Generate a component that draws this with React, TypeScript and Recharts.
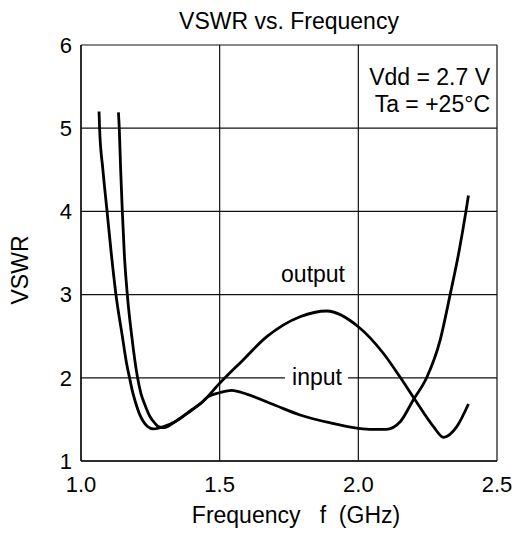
import React from 'react';
import { LineChart, Line, XAxis, YAxis, CartesianGrid } from 'recharts';

// frequency (GHz) / VSWR
const inputFreq = [1.065, 1.067, 1.079, 1.094, 1.109, 1.126, 1.149, 1.163, 1.175, 1.186, 1.197, 1.209, 1.222, 1.24, 1.261, 1.303, 1.339, 1.399, 1.43, 1.459, 1.5, 1.543, 1.6, 1.7, 1.79, 1.9, 2.0, 2.05, 2.1, 2.151, 2.198, 2.247, 2.295, 2.331, 2.362, 2.388, 2.397];
const inputVswr = [5.2, 5.0, 4.5, 4.0, 3.5, 3.0, 2.5, 2.2, 2.0, 1.83, 1.7, 1.58, 1.49, 1.415, 1.385, 1.42, 1.472, 1.613, 1.69, 1.773, 1.82, 1.85, 1.8, 1.67, 1.553, 1.457, 1.393, 1.38, 1.38, 1.472, 1.733, 2.006, 2.454, 3.0, 3.5, 4.0, 4.19];

const outputFreq = [1.135, 1.138, 1.143, 1.149, 1.156, 1.167, 1.183, 1.204, 1.216, 1.231, 1.249, 1.267, 1.279, 1.3, 1.339, 1.399, 1.435, 1.5, 1.58, 1.67, 1.79, 1.886, 2.0, 2.09, 2.151, 2.205, 2.271, 2.307, 2.355, 2.397];
const outputVswr = [5.19, 5.0, 4.5, 4.0, 3.5, 3.0, 2.5, 2.0, 1.814, 1.67, 1.532, 1.453, 1.413, 1.4, 1.472, 1.613, 1.7, 1.934, 2.2, 2.494, 2.734, 2.803, 2.614, 2.295, 2.006, 1.733, 1.413, 1.285, 1.413, 1.685];

const xTicks = [1.0, 1.5, 2.0, 2.5];
const yTicks = [1, 2, 3, 4, 5, 6];

const inputData = inputFreq.map((f, i) => ({ f, v: inputVswr[i] }));
const outputData = outputFreq.map((f, i) => ({ f, v: outputVswr[i] }));

const font = 'Liberation Sans, Arial, sans-serif';
const fs = 23;
const tickFs = 22;

export default function App() {
  return (
    <div style={{ position: 'absolute', left: 0, top: 0, width: 517, height: 535, background: '#fff', fontFamily: font }}>
      <LineChart width={517} height={535} margin={{ top: 45, right: 20, left: 0, bottom: 0 }}>
        <CartesianGrid stroke="#111" strokeWidth={1.2} />
        <XAxis
          type="number"
          dataKey="f"
          domain={[1, 2.5]}
          ticks={xTicks}
          tickFormatter={(v: number) => v.toFixed(1)}
          allowDuplicatedCategory={false}
          height={74}
          tickLine={false}
          tickMargin={9}
          axisLine={{ stroke: '#111', strokeWidth: 1.4 }}
          tick={{ fill: '#000', fontSize: tickFs, fontFamily: font }}
        />
        <YAxis
          type="number"
          domain={[1, 6]}
          ticks={yTicks}
          width={81}
          tickLine={false}
          tickMargin={3}
          axisLine={{ stroke: '#111', strokeWidth: 1.4 }}
          tick={{ fill: '#000', fontSize: tickFs, fontFamily: font }}
        />
        <Line data={inputData} dataKey="v" type="monotone" stroke="#000" strokeWidth={2.8} dot={false} isAnimationActive={false} />
        <Line data={outputData} dataKey="v" type="monotone" stroke="#000" strokeWidth={2.8} dot={false} isAnimationActive={false} />
      </LineChart>
      <svg width={517} height={535} style={{ position: 'absolute', left: 0, top: 0, pointerEvents: 'none' }}>
        <g fontFamily={font} fontSize={fs} fill="#000">
          <text x={289} y={29} textAnchor="middle">VSWR vs. Frequency</text>
          <text x={490} y={85} textAnchor="end">Vdd = 2.7 V</text>
          <text x={490} y={112} textAnchor="end">Ta = +25°C</text>
          <text x={345} y={282} textAnchor="end">output</text>
          <rect x={285} y={366} width={63} height={24} fill="#fff" />
          <text x={317} y={385} textAnchor="middle">input</text>
          <text x={28} y={270} textAnchor="middle" transform="rotate(-90 28 270)">VSWR</text>
          <text x={296} y={523} textAnchor="middle" style={{ whiteSpace: 'pre' }}>{'Frequency   f  (GHz)'}</text>
        </g>
      </svg>
    </div>
  );
}
